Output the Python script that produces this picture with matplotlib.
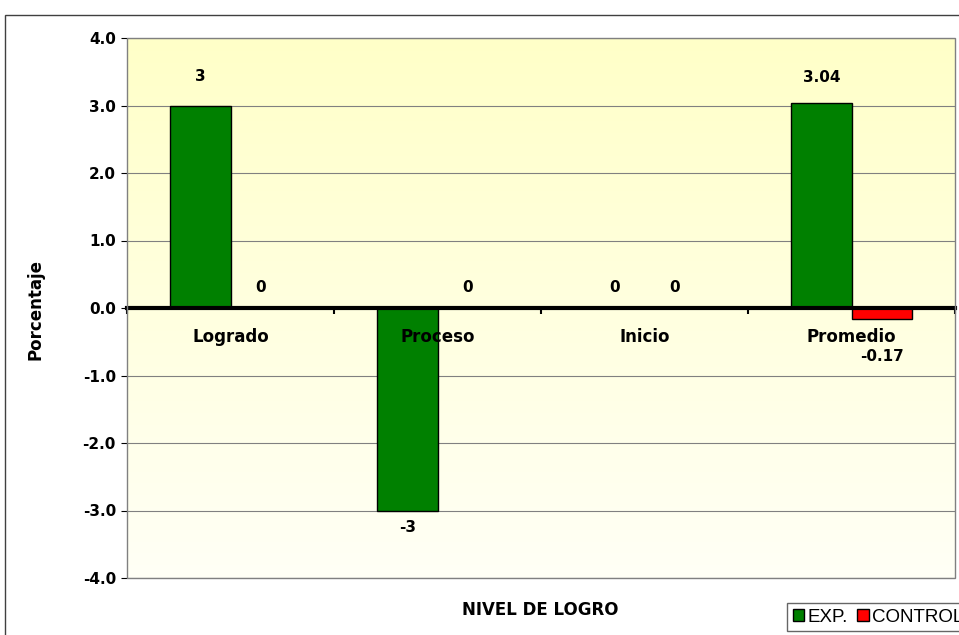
import numpy as np
import matplotlib.pyplot as plt
from matplotlib.patches import Rectangle
from matplotlib.colors import LinearSegmentedColormap

# datos del grafico
categorias = ["Logrado", "Proceso", "Inicio", "Promedio"]
exp = [3, -3, 0, 3.04]
control = [0, 0, 0, -0.17]
etiquetas_exp = ["3", "-3", "0", "3.04"]
etiquetas_control = ["0", "0", "0", "-0.17"]

plt.rcParams['font.family'] = ['DejaVu Sans']

fig = plt.figure(figsize=(9.59, 6.35), dpi=100)
ax = fig.add_axes([127/959, 1 - 578/635, 828/959, 540/635])

x = np.arange(len(categorias))
w = 0.29

# fondo degradado amarillo
cmap = LinearSegmentedColormap.from_list("fondo", ["#fffff6", "#ffffc8"])
grad = np.linspace(0, 1, 256).reshape(-1, 1)
ax.imshow(grad, cmap=cmap, aspect='auto', origin='lower',
          extent=(-0.5, 3.5, -4, 4), zorder=0)

b1 = ax.bar(x - w/2, exp, w, color="#008000", edgecolor="black", linewidth=1, label="EXP.", zorder=3)
b2 = ax.bar(x + w/2, control, w, color="#ff0000", edgecolor="black", linewidth=1, label="CONTROL", zorder=3)

ax.set_xlim(-0.5, 3.5)
ax.set_ylim(-4, 4)
ax.set_yticks(np.arange(-4, 4.1, 1))
ax.set_yticklabels([f"{v:.1f}" for v in np.arange(-4, 4.1, 1)], fontsize=11, fontweight='bold')
ax.yaxis.grid(True, color="#808080", linewidth=0.8, zorder=1)
ax.set_axisbelow(True)

# eje x en cero
ax.spines['bottom'].set_position(('data', 0))
ax.spines['bottom'].set_linewidth(3)
ax.spines['bottom'].set_zorder(4)
for s in ['top', 'right', 'left']:
    ax.spines[s].set_visible(False)
ax.add_patch(Rectangle((0, 0), 1, 1, transform=ax.transAxes, fill=False,
                       edgecolor="#808080", linewidth=1, zorder=5, clip_on=False))
ax.set_xticks(np.arange(-0.5, 3.6, 1))
ax.set_xticklabels([])
ax.tick_params(axis='x', which='major', length=4, width=1.5, direction='out')
ax.tick_params(axis='y', length=4, pad=4)

# nombres de categorias sobre las barras
for xi, nombre in zip(x, categorias):
    ax.annotate(nombre, (xi, 0), xytext=(0, -29), textcoords='offset pixels',
                ha='center', va='center', fontsize=12, fontweight='bold', zorder=6)

# etiquetas de datos
offs_exp = [29, -17, 21, 25]
offs_ctrl = [21, 21, 21, -37]
for bar, txt, off in zip(b1, etiquetas_exp, offs_exp):
    yb = bar.get_y() + bar.get_height()
    ax.annotate(txt, (bar.get_x() + bar.get_width()/2, yb), xytext=(0, off),
                textcoords='offset pixels', ha='center', va='center',
                fontsize=11, fontweight='bold', zorder=6)
for bar, txt, off in zip(b2, etiquetas_control, offs_ctrl):
    yb = bar.get_y() + bar.get_height()
    if txt == "0":
        yb = 0
    ax.annotate(txt, (bar.get_x() + bar.get_width()/2, yb), xytext=(0, off),
                textcoords='offset pixels', ha='center', va='center',
                fontsize=11, fontweight='bold', zorder=6)

fig.text(35/959, 1 - 309/635, "Porcentaje", rotation=90, ha='center', va='center',
         fontsize=12, fontweight='bold')
fig.text(540/959, 1 - 610/635, "NIVEL DE LOGRO", ha='center', va='center',
         fontsize=12, fontweight='bold')

# marco exterior
fig.patches.append(Rectangle((5/959, -0.1), 1.2, 1.1 - 15/635, transform=fig.transFigure,
                             fill=False, edgecolor="#404040", linewidth=1))

leg = fig.legend(handles=[b1, b2], loc='upper left', bbox_to_anchor=(787/959, 1 - 603/635),
                 ncol=2, frameon=True, fancybox=False, edgecolor="#404040",
                 prop={'family': 'Liberation Sans', 'size': 13.5},
                 handlelength=0.6, handleheight=0.6, handletextpad=0.2,
                 columnspacing=0.5, borderpad=0.3, borderaxespad=0)
leg.get_frame().set_linewidth(1)

fig.savefig("out.png", dpi=100)
